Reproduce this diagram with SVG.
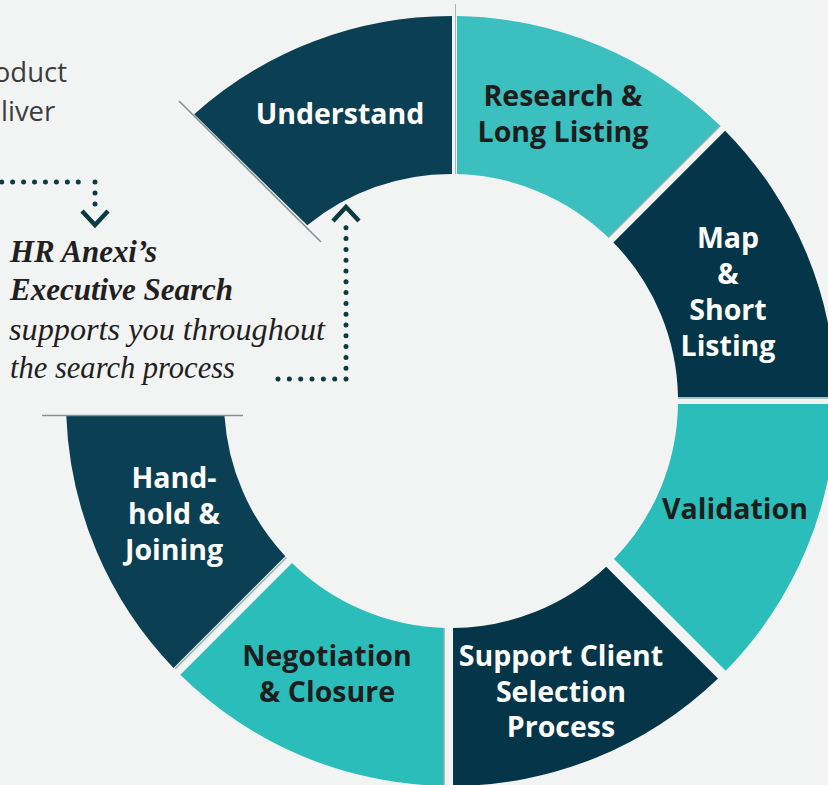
<svg xmlns="http://www.w3.org/2000/svg" width="828" height="785" viewBox="0 0 828 785">
<style>
.bg{fill:#f2f4f4}
.dark{fill:#0b3f54}
.dark2{fill:#043548}
.teal{fill:#3bbfbf}
.teal2{fill:#2bbdb9}
.lbl{font-family:"Open Sans","Liberation Sans",sans-serif;font-weight:700;font-size:28.5px;text-anchor:middle}
.w{fill:#ffffff}
.k{fill:#1d1d1d}
.ser{font-family:"Liberation Serif",serif;font-style:italic;fill:#231f20}
.sb{font-weight:700;font-size:30.5px}
.sr{font-size:31px}
.side{font-family:"Open Sans","Liberation Sans",sans-serif;font-size:27.5px;fill:#3d3d3d}
.dots{fill:none;stroke:#0c3b40;stroke-width:5;stroke-linecap:round}
.shadow{fill:none;stroke:#82938f;stroke-width:1.6}
.fringe{fill:none;stroke:#8fb0ad;stroke-width:1.5}
</style>
<defs>
<marker id="chev" markerUnits="userSpaceOnUse" viewBox="-20 -20 40 40" markerWidth="40" markerHeight="40" refX="0" refY="0" orient="auto" overflow="visible">
<path d="M-4,-13 L10,0 L-4,13" fill="none" stroke="#0c3b40" stroke-width="4.5" stroke-linejoin="miter"/>
</marker>
</defs>
<rect class="bg" x="0" y="0" width="828" height="785"/>

<text class="side" x="67" y="82" text-anchor="end">oduct</text>
<text class="side" x="1" y="121">liver</text>

<line class="shadow" x1="179" y1="101" x2="321" y2="242"/>
<line x1="455.5" y1="4" x2="455.5" y2="174" stroke="#a7b8b5" stroke-width="1"/>

<g id="understand">
<path class="dark" d="M194.2,114.2 A385,385 0 0 1 452,16 L452,174 A227,227 0 0 0 307.3,225.3 Z"/>
<text class="lbl w" x="340" y="124">Understand</text>
</g>
<g id="research">
<path class="teal" d="M457,16.05 A385,385 0 0 1 720.2,125.7 L608.4,237.5 A227,227 0 0 0 457,174.1 Z"/>
<line class="fringe" x1="720.2" y1="125.7" x2="608.4" y2="237.5"/>
<text class="lbl k" x="563" y="106">Research &amp;</text>
<text class="lbl k" x="563" y="142">Long Listing</text>
</g>
<g id="map">
<path class="dark2" d="M725.1,130.7 A385,385 0 0 1 836,397 L678,397 A227,227 0 0 0 613.4,242.4 Z"/>
<line class="fringe" x1="678" y1="398" x2="836" y2="398"/>
<text class="lbl w" x="728" y="248">Map</text>
<text class="lbl w" x="728" y="284">&amp;</text>
<text class="lbl w" x="728" y="320">Short</text>
<text class="lbl w" x="728" y="356">Listing</text>
</g>
<g id="validation">
<path class="teal2" d="M836,404 A385,385 0 0 1 725.7,670.7 L614,559 A227,227 0 0 0 678,404 Z"/>
<text class="lbl k" x="735" y="519">Validation</text>
</g>
<g id="support">
<path class="dark2" d="M718,678.4 A385,385 0 0 1 453,786 L453,628 A227,227 0 0 0 606.2,566.7 Z"/>
<text class="lbl w" x="561" y="666">Support Client</text>
<text class="lbl w" x="561" y="702">Selection</text>
<text class="lbl w" x="561" y="737">Process</text>
</g>
<g id="negotiation">
<path class="teal2" d="M444,785.9 A385,385 0 0 1 180.3,674.7 L292,563 A227,227 0 0 0 444,627.9 Z"/>
<line class="fringe" x1="444" y1="628" x2="444" y2="785"/>
<text class="lbl k" x="327" y="666">Negotiation</text>
<text class="lbl k" x="327" y="702">&amp; Closure</text>
</g>
<g id="handhold">
<path class="dark" d="M173.5,667.9 A385,385 0 0 1 66.3,416 L224.5,416 A227,227 0 0 0 285.3,556.2 Z"/>
<line class="fringe" x1="286.5" y1="557.5" x2="175" y2="669"/>
<text class="lbl w" x="174" y="488">Hand-</text>
<text class="lbl w" x="174" y="524">hold &amp;</text>
<text class="lbl w" x="174" y="560">Joining</text>
</g>
<line class="shadow" x1="42" y1="415.5" x2="243" y2="415.5"/>

<g id="note">
<text class="ser sb" x="10" y="262" textLength="147" lengthAdjust="spacingAndGlyphs">HR Anexi’s</text>
<text class="ser sb" x="10" y="300" textLength="223" lengthAdjust="spacingAndGlyphs">Executive Search</text>
<text class="ser sr" x="9" y="340" textLength="316" lengthAdjust="spacingAndGlyphs">supports you throughout</text>
<text class="ser sr" x="10" y="378" textLength="225" lengthAdjust="spacingAndGlyphs">the search process</text>
</g>

<g id="connectors">
<path class="dots" d="M1.7,182 H78.3" stroke-dasharray="0 10.94"/>
<path class="dots" d="M95,182 V215" stroke-dasharray="0 11" marker-end="url(#chev)"/>
<path class="dots" d="M278,379 H334.7" stroke-dasharray="0 11.34"/>
<path class="dots" d="M346,379 V217" stroke-dasharray="0 10.8" marker-end="url(#chev)"/>
</g>
</svg>
